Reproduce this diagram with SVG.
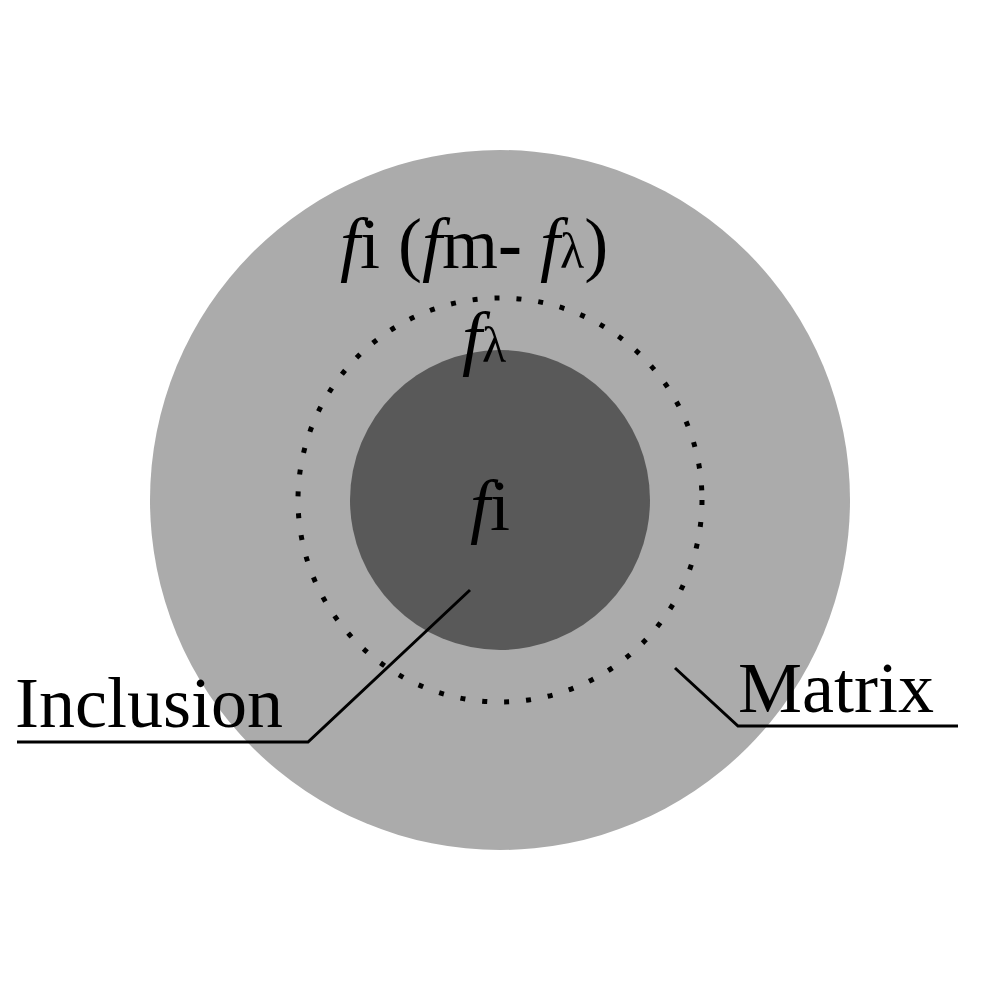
<svg xmlns="http://www.w3.org/2000/svg" width="1000" height="1000" viewBox="0 0 1000 1000">
<style>
text{font-family:"Liberation Serif",serif;fill:#000}
.f{font-style:italic}
.ln{fill:none;stroke:#000;stroke-width:3}
</style>
<rect width="1000" height="1000" fill="#fff"/>
<g id="matrix"><circle cx="500" cy="500" r="350" fill="#ababab"/></g>
<g id="boundary"><circle cx="500" cy="500" r="202" fill="none" stroke="#000" stroke-width="5" stroke-dasharray="5 17"/></g>
<g id="inclusion"><circle cx="500" cy="500" r="150" fill="#595959"/></g>
<g id="labels">
<text x="340" y="268" font-size="72"><tspan class="f">f</tspan>i (<tspan class="f">f</tspan>m<tspan font-weight="bold">-</tspan> <tspan class="f">f</tspan><tspan font-size="50">λ</tspan>)</text>
<text x="462" y="362" font-size="72"><tspan class="f">f</tspan><tspan font-size="50">λ</tspan></text>
<text x="470" y="530" font-size="72"><tspan class="f">f</tspan>i</text>
<text x="15" y="727" font-size="72">Inclusion</text>
<text x="738" y="712" font-size="72">Matrix</text>
</g>
<g id="connectors">
<polyline class="ln" points="17,742 308,742 470,590"/>
<polyline class="ln" points="675,668 738,726 958,726"/>
</g>
</svg>
